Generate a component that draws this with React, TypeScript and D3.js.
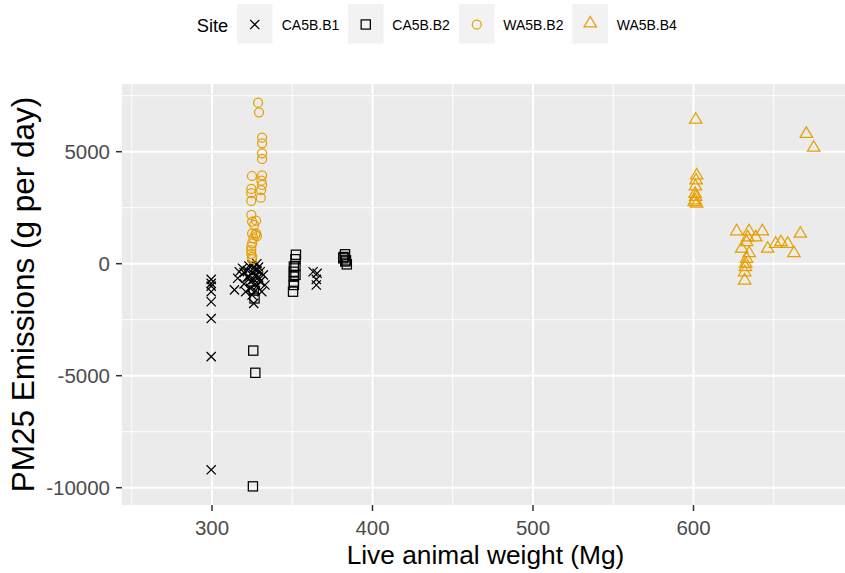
import React from "react";
import * as d3 from "d3";

const xTicks = [300, 400, 500, 600];
const xMinor = [250, 350, 450, 550, 650];
const yTicks = [-10000, -5000, 0, 5000];
const yMinor = [-7500, -2500, 2500, 7500];

const sites = ["CA5B.B1", "CA5B.B2", "WA5B.B2", "WA5B.B4"];
const siteColors = ["#000000", "#000000", "#E69F00", "#E69F00"];
const siteShapes = ["cross", "square", "circle", "triangle"];

// CA5B.B1
const b1X = [299.5, 299.5, 299.5, 299.5, 299.5, 299.5, 299.5, 299.5,
  314, 316, 317, 319, 320, 320, 321, 322, 322, 323, 323, 324, 324, 325, 325, 325, 326, 326, 326, 327, 327, 327, 328, 328, 328, 329, 329, 330, 330, 331, 332, 333,
  365.5, 365, 365, 363];
const b1Y = [-700, -880, -1000, -1250, -1700, -2450, -4150, -9200,
  -1170, -650, -360, -200, -400, -900, -1250, -600, -300, -100, -580, -800, -1100, -60, -400, -1400, -200, -700, -1770, -500, -900, -1200, -300, -1000, 0, -600, -150, -360, -800, -1250, -500, -950,
  -430, -700, -950, -360];

// CA5B.B2
const b2X = [326, 326.5, 325.7, 327, 325.5,
  352.3, 352, 351, 351, 351, 351, 351, 350.5, 352, 352,
  382.9, 381.8, 383, 384, 382, 383.5];
const b2Y = [-1200, -1550, -3880, -4870, -9940,
  400, 200, -130, -360, -580, -800, -950, -1250, -100, -500,
  420, 240, 100, -30, 300, 150];

// WA5B.B2
const w2X = [328.7, 329.3, 331.2, 331.2, 331.2, 331.2, 331.2, 324.9, 330.8, 331.2, 324.5, 330.6, 324.5, 330.4, 324.5, 324.5, 327.5, 325, 326.2, 327.5, 328, 325.8, 325, 324.5, 324.5, 324.5, 325, 327, 325, 325];
const w2Y = [7190, 6760, 5625, 5375, 4930, 4675, 3945, 3915, 3705, 3515, 3335, 3290, 3145, 2945, 2800, 2175, 1920, 1875, 1730, 1355, 1235, 1135, 910, 760, 610, 435, 310, 1300, 1350, 200];

// WA5B.B4
const w4X = [601.4, 670.3, 674.9, 602, 601.6, 601.2, 601, 601.3, 600.4, 602, 601,
  626.9, 634.6, 642.9, 666.6, 638.8, 633.8, 651.2, 654.5, 658.7, 630, 646.2, 662.6, 634.7, 633.1, 632.5, 632.3, 631.9, 631.9, 633.1];
const w4Y = [6450, 5820, 5200, 3960, 3740, 3470, 3140, 3000, 2770, 2700, 2850,
  1470, 1470, 1470, 1360, 1200, 1200, 910, 980, 910, 690, 690, 490, 490, 240, 20, -130, -360, -730, 980];

const seriesX = [b1X, b2X, w2X, w4X];
const seriesY = [b1Y, b2Y, w2Y, w4Y];

const W = 845, H = 573;
const pL = 122, pR = 849, pT = 84, pB = 505;
const FONT = "'Liberation Sans', Arial, sans-serif";

function Marker({ shape, x, y, color }: { shape: string; x: number; y: number; color: string }) {
  const sw = 1.25;
  if (shape === "cross") {
    const s = 4.6;
    return (
      <path d={`M${x - s},${y - s}L${x + s},${y + s}M${x - s},${y + s}L${x + s},${y - s}`} stroke={color} strokeWidth={sw} fill="none" />
    );
  }
  if (shape === "square") {
    const s = 4.6;
    return <rect x={x - s} y={y - s} width={2 * s} height={2 * s} stroke={color} strokeWidth={sw} fill="none" />;
  }
  if (shape === "circle") {
    return <circle cx={x} cy={y} r={4.5} stroke={color} strokeWidth={sw} fill="none" />;
  }
  const h = 10.5, w = 6.2;
  return (
    <path d={`M${x},${y - h * 0.62}L${x + w},${y + h * 0.38}L${x - w},${y + h * 0.38}Z`} stroke={color} strokeWidth={sw} fill="none" />
  );
}

export default function App() {
  const x = d3.scaleLinear().domain([243.93, 300 + (pR - 212) / 1.605]).range([pL, pR]);
  const y = d3.scaleLinear().domain([-10772, 8022]).range([pB, pT]);

  const legendKeys = [237, 348, 459, 572.5];
  const legendLabels = [281.7, 392.3, 503.3, 616.7];

  return (
    <svg width={W} height={H} style={{ position: "absolute", left: 0, top: 0 }} fontFamily={FONT}>
      <rect x={0} y={0} width={W} height={H} fill="#ffffff" />
      <defs>
        <clipPath id="panel">
          <rect x={pL} y={pT} width={pR - pL} height={pB - pT} />
        </clipPath>
      </defs>
      <rect x={pL} y={pT} width={pR - pL} height={pB - pT} fill="#EBEBEB" />
      {xMinor.map((v) => (
        <line key={"xm" + v} x1={x(v)} x2={x(v)} y1={pT} y2={pB} stroke="#fff" strokeWidth={1} />
      ))}
      {yMinor.map((v) => (
        <line key={"ym" + v} x1={pL} x2={pR} y1={y(v)} y2={y(v)} stroke="#fff" strokeWidth={1} />
      ))}
      {xTicks.map((v) => (
        <line key={"xM" + v} x1={x(v)} x2={x(v)} y1={pT} y2={pB} stroke="#fff" strokeWidth={2} />
      ))}
      {yTicks.map((v) => (
        <line key={"yM" + v} x1={pL} x2={pR} y1={y(v)} y2={y(v)} stroke="#fff" strokeWidth={2} />
      ))}
      <g clipPath="url(#panel)">
        {seriesX.map((xs, si) =>
          xs.map((xv, i) => (
            <Marker key={si + "-" + i} shape={siteShapes[si]} x={x(xv)} y={y(seriesY[si][i])} color={siteColors[si]} />
          ))
        )}
      </g>
      {xTicks.map((v) => (
        <g key={"xt" + v}>
          <line x1={x(v)} x2={x(v)} y1={pB} y2={pB + 6} stroke="#333333" strokeWidth={1.5} />
          <text x={x(v)} y={534.5} textAnchor="middle" fontSize={20.5} fill="#4D4D4D">{v}</text>
        </g>
      ))}
      {yTicks.map((v) => (
        <g key={"yt" + v}>
          <line x1={pL - 6} x2={pL} y1={y(v)} y2={y(v)} stroke="#333333" strokeWidth={1.5} />
          <text x={pL - 12} y={y(v)} dy="0.36em" textAnchor="end" fontSize={20.5} fill="#4D4D4D">{v}</text>
        </g>
      ))}
      <text x={(pL + pR) / 2} y={563.5} textAnchor="middle" fontSize={26.3} fill="#000">Live animal weight (Mg)</text>
      <text transform={`translate(34,${(pT + pB) / 2}) rotate(-90)`} textAnchor="middle" fontSize={31.5} fill="#000">PM25 Emissions (g per day)</text>
      <text x={196.7} y={31.5} fontSize={18.3} fill="#000">Site</text>
      {sites.map((s, i) => (
        <g key={s}>
          <rect x={legendKeys[i]} y={4} width={35.5} height={39.5} fill="#F2F2F2" />
          <Marker shape={siteShapes[i]} x={legendKeys[i] + 17.75} y={i === 3 ? 23 : 24.5} color={siteColors[i]} />
          <text x={legendLabels[i]} y={30.3} fontSize={14} fill="#000">{s}</text>
        </g>
      ))}
    </svg>
  );
}
